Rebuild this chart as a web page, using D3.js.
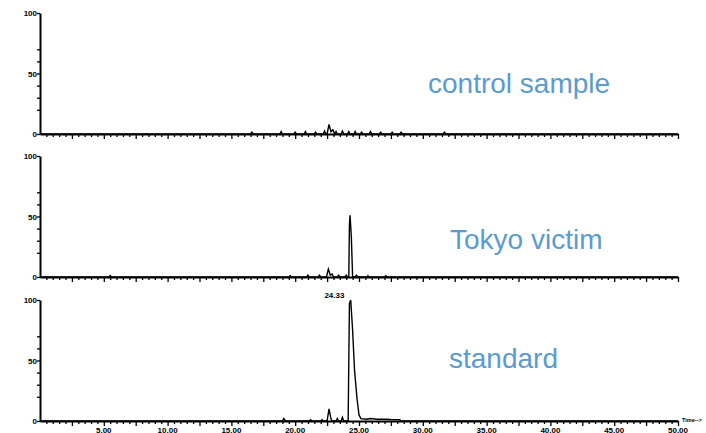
<!DOCTYPE html>
<html>
<head>
<meta charset="utf-8">
<script src="https://cdn.jsdelivr.net/npm/d3@7"></script>
<style>
  body { margin: 0; background: #fff; }
  svg { display: block; }
  .tick-label { font-family: "Liberation Sans", Arial, sans-serif; font-weight: bold; fill: #000; }
  .sample-label { font-family: "Liberation Sans", Arial, sans-serif; fill: #5a9bd0; }
</style>
</head>
<body>
<div id="wrapper"></div>
<script>
// chromatogram traces, [time (min), abundance (%)]
const controlTrace = [
  [0, 0], [16.5, 0], [16.6, 1.5], [16.7, 0], [18.8, 0], [18.9, 2], [19.0, 0],
  [19.9, 0], [20.0, 1.5], [20.1, 0], [20.7, 0], [20.8, 2], [20.9, 0],
  [21.5, 0], [21.6, 1.5], [21.7, 0], [22.2, 0], [22.3, 2.5], [22.4, 0],
  [22.5, 0], [22.65, 8], [22.8, 2], [22.95, 3.5], [23.1, 0], [23.2, 2], [23.3, 0],
  [23.6, 0], [23.7, 2.5], [23.8, 0], [24.1, 0], [24.2, 2], [24.3, 0],
  [24.6, 0], [24.7, 2], [24.8, 0], [25.1, 0], [25.2, 1.5], [25.3, 0],
  [25.8, 0], [25.9, 2], [26.0, 0], [26.6, 0], [26.7, 1.5], [26.8, 0],
  [27.5, 0], [27.6, 1.5], [27.7, 0], [28.2, 0], [28.3, 1.5], [28.4, 0],
  [31.6, 0], [31.7, 1.5], [31.8, 0], [50, 0],
]

const victimTrace = [
  [0, 0], [5.4, 0], [5.5, 1.2], [5.6, 0], [19.5, 0], [19.6, 1], [19.7, 0],
  [20.9, 0], [21.0, 1.5], [21.1, 0], [21.8, 0], [21.9, 1.5], [22.0, 0],
  [22.45, 0], [22.6, 6.5], [22.75, 1.5], [22.9, 2.5], [23.0, 0],
  [23.3, 0], [23.4, 1.5], [23.5, 0], [23.9, 0], [24.0, 1.5], [24.1, 0],
  [24.2, 0], [24.25, 43], [24.3, 51], [24.4, 33], [24.5, 0],
  [24.7, 0], [24.8, 1.5], [24.9, 0], [25.6, 0], [25.7, 1], [25.8, 0],
  [27.0, 0], [27.1, 1], [27.2, 0], [50, 0],
]

const standardTrace = [
  [0, 0], [19.0, 0], [19.1, 2], [19.25, 0], [21.1, 0], [21.2, 1], [21.3, 0],
  [22.0, 0], [22.1, 1], [22.2, 0], [22.5, 0], [22.65, 10], [22.8, 2], [22.9, 0],
  [23.2, 0], [23.3, 2], [23.4, 0], [23.6, 0], [23.7, 3], [23.8, 0],
  [24.15, 0], [24.25, 97], [24.35, 100], [24.5, 75], [24.65, 42], [24.85, 18],
  [25.0, 5], [25.15, 2], [25.6, 1.5], [25.9, 2], [26.4, 1.5], [27.0, 1.5],
  [27.5, 1.2], [28.2, 1], [28.3, 0], [50, 0],
]

const sampleNames = ["control sample", "Tokyo victim", "standard"]
const xLabelValues = [5, 10, 15, 20, 25, 30, 35, 40, 45, 50]
const yLabelValues = [0, 50, 100]
const yTickValues = [0, 20, 30, 40, 50, 60, 70, 100]
const peakLabel = { time: 24.33, value: 100, text: "24.33" }

function drawChart() {
  const traces = [controlTrace, victimTrace, standardTrace]

  const xAccessor = (d) => d[0]
  const yAccessor = (d) => d[1]

  let dimensions = {
    width: 706,
    height: 433,
    left: 40,
    right: 678,
    panelTops: [13, 156, 300],
    panelHeight: 121,
    // where the blue sample names sit, relative to each panel
    labelPos: [[428, 80], [450, 93], [449, 68]],
  }

  const wrapper = d3
    .select("#wrapper")
    .append("svg")
    .attr("width", dimensions.width)
    .attr("height", dimensions.height)

  const xScale = d3
    .scaleLinear()
    .domain([0, 50])
    .range([dimensions.left, dimensions.right])

  const yScale = d3
    .scaleLinear()
    .domain([0, 100])
    .range([dimensions.panelHeight, 0])

  const lineGenerator = d3
    .line()
    .x((d) => xScale(xAccessor(d)))
    .y((d) => yScale(yAccessor(d)))

  const minorTicks = d3.range(0.5, 50.01, 0.5).filter((t) => t % 2.5 !== 0)
  const majorTicks = d3.range(2.5, 50.01, 2.5)

  traces.forEach((trace, i) => {
    const panel = wrapper
      .append("g")
      .attr("transform", `translate(0, ${dimensions.panelTops[i]})`)

    // trace
    panel
      .append("path")
      .attr("d", lineGenerator(trace))
      .attr("fill", "none")
      .attr("stroke", "#000")
      .attr("stroke-width", 1.4)

    // x axis: minor + major ticks, labels only on the last panel
    const xMinor = panel
      .append("g")
      .attr("transform", `translate(0, ${dimensions.panelHeight})`)
      .call(
        d3.axisBottom(xScale).tickValues(minorTicks).tickSize(3).tickSizeOuter(0).tickFormat("")
      )
    xMinor.select(".domain").attr("stroke-width", 2)
    xMinor.selectAll(".tick line").attr("stroke-width", 1.3)

    const xMajor = panel
      .append("g")
      .attr("transform", `translate(0, ${dimensions.panelHeight})`)
      .call(
        d3.axisBottom(xScale).tickValues(majorTicks).tickSize(5).tickSizeOuter(0).tickFormat("")
      )
    xMajor.select(".domain").remove()
    xMajor.selectAll(".tick line").attr("stroke-width", 1.3)

    if (i === traces.length - 1) {
      panel
        .selectAll(".x-label")
        .data(xLabelValues)
        .join("text")
        .attr("class", "tick-label")
        .attr("x", (d) => xScale(d))
        .attr("y", dimensions.panelHeight + 11.5)
        .attr("text-anchor", "middle")
        .attr("font-size", 8)
        .text((d) => d3.format(".2f")(d))

      panel
        .append("text")
        .attr("class", "tick-label")
        .attr("x", dimensions.right + 4)
        .attr("y", dimensions.panelHeight + 1)
        .attr("font-size", 5.5)
        .text("Time-->")

      panel
        .append("text")
        .attr("class", "tick-label")
        .attr("x", xScale(peakLabel.time) - 6)
        .attr("y", yScale(peakLabel.value) - 2)
        .attr("text-anchor", "end")
        .attr("font-size", 8)
        .text(peakLabel.text)
    }

    // y axis
    const yAxis = panel
      .append("g")
      .attr("transform", `translate(${dimensions.left}, 0)`)
      .call(
        d3.axisLeft(yScale).tickValues(yTickValues).tickSize(3).tickSizeOuter(0).tickFormat("")
      )
    yAxis.select(".domain").attr("stroke-width", 2)
    yAxis.selectAll(".tick line").attr("stroke-width", 1.3)

    panel
      .selectAll(".y-label")
      .data(yLabelValues)
      .join("text")
      .attr("class", "tick-label")
      .attr("x", dimensions.left - 3)
      .attr("y", (d) => yScale(d) + 3)
      .attr("text-anchor", "end")
      .attr("font-size", 8)
      .text((d) => d)

    // sample name
    panel
      .append("text")
      .attr("class", "sample-label")
      .attr("x", dimensions.labelPos[i][0])
      .attr("y", dimensions.labelPos[i][1])
      .attr("font-size", 28)
      .text(sampleNames[i])
  })
}

drawChart()
</script>
</body>
</html>
